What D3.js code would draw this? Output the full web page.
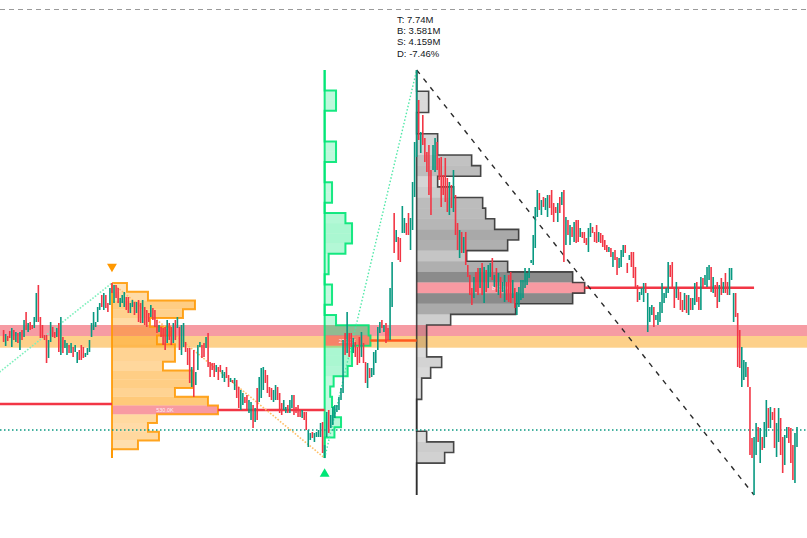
<!DOCTYPE html>
<html><head><meta charset="utf-8">
<script src="https://cdn.jsdelivr.net/npm/d3@7"></script>
<style>html,body{margin:0;padding:0;background:#fff;overflow:hidden}</style>
</head><body><svg id="c" width="807" height="538"></svg>
<script>
// ---------- DATA ----------
const highs = [
270,266,264,269,272,270,268,267,268,270,280,288,277,278,275,283,307,315,283,275,
265,265,260,278,273,268,272,277,283,263,260,257,255,257,253,255,248,250,255,253,
247,252,260,277,288,278,293,297,305,307,305,297,312,317,
315,315,312,302,305,308,303,303,297,300,298,298,300,297,300,293,290,287,295,292,
290,280,275,273,272,273,280,277,273,277,280,283,273,275,277,258,252,252,233,250,
228,255,258,255,257,263,267,238,237,237,235,233,235,230,228,233,225,222,220,222,
220,213,210,207,203,205,200,198,195,192,212,223,232,233,230,225,213,212,210,215,
213,207,197,200,193,195,200,205,205,193,195,190,190,188,188,170,167,168,167,168,
170,177,178,155,
188,190,185,193,195,195,203,212,260,267,288,267,267,262,258,253,263,268,257,238,
237,232,232,248,250,273,278,280,275,277,272,312,338,387,370,363,362,394,382,377,
387,382,418,458,530,
500,468,485,462,448,455,430,455,462,458,442,443,425,442,422,418,415,430,405,377,
370,368,363,368,335,325,312,323,328,332,332,337,333,330,335,337,342,325,332,327,
323,318,325,318,325,328,320,312,308,313,320,320,332,327,332,340,365,393,410,407,
400,403,402,405,405,410,397,393,397,403,408,410,383,380,375,373,378,380,380,372,
368,368,362,372,377,373,368,375,368,367,365,360,355,353,352,348,350,343,342,350,
355,355,337,345,348,348,333,315,308,312,317,317,307,293,295,293,285,288,298,317,
307,312,338,335,338,313,318,313,308,300,307,305,305,302,302,317,318,303,323,322,
325,333,335,333,323,315,318,315,322,318,327,318,332,332,307,307,287,270,253,240,
238,233,213,162,163,177,173,172,163,178,200,192,193,188,192,177,192,182,163,165,
173,173,172,155,167,173];
const lows = [
258,254,259,262,253,260,258,257,250,260,263,270,268,270,271,272,278,278,262,262,
260,237,242,258,263,262,263,248,245,247,252,245,247,247,243,248,237,240,240,242,
243,245,248,263,270,273,278,290,293,290,292,288,295,307,
297,302,297,293,297,293,290,287,287,293,285,287,278,277,277,275,273,278,283,280,
273,267,268,263,255,250,257,260,255,257,260,272,250,245,253,248,235,217,213,203,
215,230,253,242,243,252,233,223,230,223,228,220,228,222,218,222,213,218,217,210,
202,192,190,195,197,190,187,180,172,178,180,198,202,210,217,207,203,200,198,200,
200,187,185,190,187,187,187,192,185,187,183,183,182,180,170,153,160,162,158,163,
163,163,147,142,
163,167,172,175,182,188,190,200,207,245,247,243,253,247,243,235,237,243,237,217,
212,222,223,225,237,250,267,272,268,257,260,260,293,347,358,340,338,367,367,365,
365,350,370,403,443,
460,447,455,438,428,405,385,430,428,430,420,393,405,398,388,385,392,388,365,350,
342,347,347,335,323,305,295,302,308,305,312,305,297,308,312,323,320,313,308,305,
302,308,298,300,298,297,302,292,285,293,300,302,312,315,322,337,335,352,383,390,
385,393,390,383,392,385,378,387,378,387,395,338,355,365,355,363,358,357,358,363,
362,357,355,348,363,367,358,357,358,357,353,350,348,348,343,333,340,325,332,333,
343,347,327,340,333,322,313,298,300,305,298,307,268,278,285,273,280,275,278,287,
297,302,307,323,312,292,302,300,290,288,290,287,285,290,290,295,298,290,290,312,
315,313,320,308,307,303,292,298,305,307,307,305,305,320,278,283,233,232,213,220,
223,213,145,142,105,145,158,137,150,152,163,172,172,180,152,143,158,145,127,135,
162,157,137,120,117,153];
const dirs =
 "rgrrgrgrgr"+"grgrrggrrr"+"rrggrrgrgr"+"ggrgrggrrr"+"ggggggggrg"+"rrgr"+
 "grrgggrrgg"+"rgrrgrrrgr"+"rrgrrrgrrg"+"rgrggrrrgr"+"gggrrgrrrr"+"grrggrrgrg"+
 "rrggrrggrg"+"rgggrrrrgg"+"rrrggrggrr"+"rrgrrggrgg"+"ggrg"+
 "grgggggggr"+"grrgrrrgrr"+"grgggggrgr"+"rggrgrrggr"+"rgggg"+
 "rgrrrrrggr"+"rrrrrgrgrr"+"grgrrrrgrr"+"grgrggrgrg"+"rggrrrgrgg"+"gggggggggr"+
 "grggrrrrgr"+"grgrgrgrrg"+"rrrggrrrgr"+"rrrgrgrrgg"+"grrgrrrrgg"+"grgggrgggg"+
 "gggrrrgrrr"+"grgrggrrgr"+"gggrgrrgrg"+"rrgggrrrgg"+"grrrggrgrg"+"grgrrggrrg"+"grrrgg";

// zig-zag pivots (bar index, price)
const pivotIdx   = [-2, 53, 157, 202, 367];
const pivotPrice = [228, 317, 142, 530, 105];

// volume profiles (row volumes in K, top row first)
const orangeVol = [75,180,415,355,190,290,225,315,315,255,405,405,315,480,530,225,180,235,130,0];
const greenVol  = [0,0,57,57,0,0,0,57,57,0,0,37,37,0,104,137,137,104,20,20,0,37,37,0,57,220,229,137,137,115,45,28,37,45,82,49,0,0];
const grayVol   = [0,0,60,60,0,0,105,105,275,320,105,185,330,345,390,510,455,250,455,780,840,780,495,170,50,50,50,125,70,25,25,0,0,0,50,185,140,0,0,0];

// zones and levels
const zoneHi = [275, 264];
const zoneLo = [264, 252.3];
const lastPrice = 170;
const topLevel = 590.5;
const prevPocPrice = 196;

const statLabels = ["T", "B", "S", "D"];
const statValues = ["7.74M", "3.581M", "4.159M", "-7.46%"];

// ---------- CHART ----------
const W = 807, H = 538;
const svg = d3.select("#c");
const x = d3.scaleLinear().domain([0, 388]).range([3.6, 797]);
const y = d3.scaleLinear().domain([62, 600]).range([538, 0]);
const volW = d3.scaleLinear().domain([0, 1000]).range([0, 200]);

const UP = "#089981", DN = "#f23645";

// zones
const zoneColors = ["#f69ba3", "#fdd08a"];
zoneHi.forEach((hi, k) => {
  svg.append("rect").attr("x", 0).attr("width", W)
    .attr("y", y(hi)).attr("height", y(zoneLo[k]) - y(hi))
    .attr("fill", zoneColors[k]);
});

// top dashed level
svg.append("line").attr("x1", 0).attr("x2", W)
  .attr("y1", y(topLevel)).attr("y2", y(topLevel))
  .attr("stroke", "#9a9a9a").attr("stroke-width", 1).attr("stroke-dasharray", "5,4");

// profiles
const profiles = [
  {vols: orangeVol, anchor: 53, next: 157, top: pivotPrice[1], bottom: pivotPrice[2],
   rgb: [255,152,0], aMin: .24, aMax: .55, stroke: "#ff9800", sw: 2, sop: .85, poc: "#f23645"},
  {vols: greenVol, anchor: 157, next: 202, top: pivotPrice[3], bottom: pivotPrice[2],
   rgb: [0,230,118], aMin: .2, aMax: .42, stroke: "#00e676", sw: 2, sop: .9, poc: "#ff5a1f"},
  {vols: grayVol, anchor: 202, next: 367, top: pivotPrice[3], bottom: pivotPrice[4],
   rgb: [0,0,0], aMin: .12, aMax: .48, stroke: "#2a2a2a", sw: 1.6, sop: .85, poc: "#f23645"}
];

const gProf = svg.append("g");
const gLines = svg.append("g");
profiles.forEach(pf => {
  const n = pf.vols.length, h = (pf.top - pf.bottom) / n;
  const x0 = x(pf.anchor);
  const vmax = d3.max(pf.vols);
  const pocI = pf.vols.indexOf(vmax);
  const rows = pf.vols.map((v, i) => ({v, i, hi: pf.top - i * h, lo: pf.top - (i + 1) * h}));
  gProf.selectAll(null).data(rows.filter(r => r.v > 0 && r.i !== pocI)).enter().append("rect")
    .attr("x", x0).attr("y", r => y(r.hi)).attr("width", r => volW(r.v))
    .attr("height", r => y(r.lo) - y(r.hi))
    .attr("fill", r => `rgba(${pf.rgb.join(",")},${pf.aMin + (pf.aMax - pf.aMin) * r.v / vmax})`);
  const pr = rows[pocI];
  gProf.append("rect").attr("x", x0).attr("y", y(pr.hi)).attr("width", volW(pr.v))
    .attr("height", y(pr.lo) - y(pr.hi)).attr("fill", "rgba(242,54,69,0.5)");
  // outline
  const pts = [[x0, y(pf.top)]];
  rows.forEach(r => { pts.push([x0 + volW(r.v), y(r.hi)]); pts.push([x0 + volW(r.v), y(r.lo)]); });
  pts.push([x0, y(pf.bottom)]);
  gProf.append("path").attr("d", d3.line()(pts)).attr("fill", "none")
    .attr("stroke", pf.stroke).attr("stroke-width", pf.sw).attr("stroke-opacity", pf.sop)
    .attr("stroke-linejoin", "miter");
  gProf.append("line").attr("x1", x0).attr("x2", x0).attr("y1", y(pf.top)).attr("y2", y(pf.bottom))
    .attr("stroke", pf.stroke).attr("stroke-width", pf.sw).attr("stroke-opacity", pf.sop);
  // POC extension
  const py = y((pr.hi + pr.lo) / 2);
  gLines.append("line").attr("x1", x0 + volW(pr.v)).attr("x2", x(pf.next))
    .attr("y1", py).attr("y2", py).attr("stroke", pf.poc).attr("stroke-width", 2.5);
  gProf.append("text").attr("x", x0 + volW(pr.v) / 2).attr("y", py + 2)
    .attr("text-anchor", "middle").attr("font-family", "Liberation Sans, Arial, sans-serif")
    .attr("font-size", 5.5).attr("fill", "#fff").attr("fill-opacity", .9)
    .text(pr.v.toFixed(1) + "K");
});

// previous POC line
gLines.append("line").attr("x1", 0).attr("x2", x(pivotIdx[1]))
  .attr("y1", y(prevPocPrice)).attr("y2", y(prevPocPrice))
  .attr("stroke", DN).attr("stroke-width", 2.5);

// last price line
svg.append("line").attr("x1", 0).attr("x2", W)
  .attr("y1", y(lastPrice)).attr("y2", y(lastPrice))
  .attr("stroke", UP).attr("stroke-width", 1.3).attr("stroke-dasharray", "1.5,2.5");

// zigzag
const zzStyle = [
  {c: "#7ef0bd", w: 1.6, d: "1.6,1.6"},
  {c: "#ffbf66", w: 1.6, d: "1.6,1.6"},
  {c: "#50e8a8", w: 1.4, d: "1.5,2"},
  {c: "#2b2b2b", w: 1.4, d: "5,6"}
];
for (let k = 0; k < pivotIdx.length - 1; k++) {
  svg.append("line")
    .attr("x1", x(pivotIdx[k])).attr("y1", y(pivotPrice[k]))
    .attr("x2", x(pivotIdx[k + 1])).attr("y2", y(pivotPrice[k + 1]))
    .attr("stroke", zzStyle[k].c).attr("stroke-width", zzStyle[k].w)
    .attr("stroke-dasharray", zzStyle[k].d);
}

// bars
const nBars = Math.min(highs.length, lows.length, dirs.length);
const bars = d3.range(nBars).map(i => ({i, hi: highs[i], lo: lows[i], up: dirs[i] === "g"}));
svg.append("g").selectAll("line").data(bars).enter().append("line")
  .attr("x1", d => x(d.i)).attr("x2", d => x(d.i))
  .attr("y1", d => y(d.hi)).attr("y2", d => y(d.lo))
  .attr("stroke", d => d.up ? UP : DN).attr("stroke-width", 1.6);

// pivot markers
const tri = d3.symbol().type(d3.symbolTriangle).size(42);
svg.append("path").attr("d", tri())
  .attr("transform", `translate(${x(pivotIdx[1])},${y(pivotPrice[1]) - 16.5}) rotate(180)`)
  .attr("fill", "#ff9800");
svg.append("path").attr("d", tri())
  .attr("transform", `translate(${x(pivotIdx[2])},${y(pivotPrice[2]) + 16})`)
  .attr("fill", "#00e676");

// stats text
const st = svg.append("g").attr("font-family", "Liberation Sans, Arial, sans-serif")
  .attr("font-size", 9.5).attr("fill", "#131722");
statLabels.forEach((l, k) => {
  st.append("text").attr("x", 397).attr("y", 22.5 + k * 11.4).text(l + ": " + statValues[k]);
});
</script>
</body></html>
